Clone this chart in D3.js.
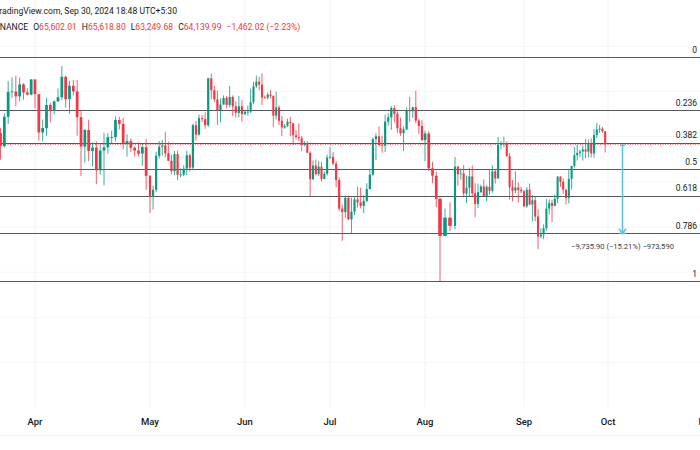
<!DOCTYPE html>
<html>
<head>
<meta charset="utf-8">
<script src="https://cdn.jsdelivr.net/npm/d3@7"></script>
<style>
  html, body { margin: 0; padding: 0; background: #fff; }
  svg { display: block; font-family: Roboto, "Liberation Sans", sans-serif; }
</style>
</head>
<body>
<div id="chart"></div>
<script>
// Daily BTCUSDT candles, [open, high, low, close]
const startDate = new Date(2024, 2, 20); // Mar 20, 2024

const marchBars = [
  [61930, 68100, 60775, 67860], [67860, 68160, 64550, 65490], [65490, 66650, 62260, 63780],
  [65400, 65970, 62450, 63950], [63950, 67600, 63800, 67200], [67200, 71150, 66400, 69950],
  [69950, 71560, 69280, 69990], [69990, 71730, 68380, 69450], [69450, 71550, 68900, 70780],
  [70780, 70920, 69080, 69890], [69890, 70350, 69560, 69650], [69650, 71370, 69560, 71330]
];
const aprilBars = [
  [71330, 71340, 68110, 69700], [69700, 69700, 64550, 65460], [65460, 66900, 64490, 65960],
  [65960, 69290, 65090, 68500], [68500, 68730, 66580, 67840], [67840, 69000, 67450, 68900],
  [68900, 70330, 68850, 69360], [69360, 72800, 69040, 71620], [71620, 71760, 68210, 69150],
  [69150, 71170, 67520, 70630], [70630, 71280, 69570, 70010], [70010, 71260, 65100, 67150],
  [67150, 67950, 60660, 63900], [63900, 65840, 62130, 65740], [65740, 66880, 62300, 63420],
  [63420, 64370, 61700, 63790], [63790, 64480, 59770, 61280], [61280, 64130, 60800, 63470],
  [63470, 65450, 59600, 63820], [63820, 65390, 63100, 64940], [64940, 65670, 64230, 64940],
  [64940, 67230, 64500, 66840], [66840, 67210, 65800, 66410], [66410, 67080, 63600, 64280],
  [64280, 65280, 62800, 64500], [64500, 64800, 63300, 63770], [63770, 63920, 62800, 63460],
  [63460, 64370, 62800, 63120], [63120, 64230, 61790, 63840], [63840, 64730, 59100, 60670]
];
const mayBars = [
  [60670, 60780, 56550, 58320], [58320, 59600, 56940, 59120], [59120, 63320, 58850, 62890],
  [62890, 64500, 62570, 63890], [63890, 64650, 62910, 64030], [64030, 65500, 62700, 63160],
  [63160, 64440, 62300, 62330], [62330, 62990, 60890, 61190], [61190, 63420, 60750, 63070],
  [63070, 63470, 60190, 60790], [60790, 61490, 60490, 60820], [60820, 61850, 60630, 61470],
  [61470, 63450, 60750, 62940], [62940, 63100, 61150, 61580], [61580, 66440, 61330, 66270],
  [66270, 66750, 64600, 65230], [65230, 67450, 65110, 67050], [67050, 67400, 66600, 66940],
  [66940, 67700, 65860, 66270], [66270, 71500, 66060, 71450], [71450, 71980, 69160, 70140],
  [70140, 70630, 68830, 69120], [69120, 70090, 66300, 67930], [67930, 69250, 66600, 68550],
  [68550, 69560, 68540, 69290], [69290, 69500, 68120, 68510], [68510, 70600, 68230, 69390],
  [69390, 69560, 67280, 68360], [68360, 68920, 67120, 67630], [67630, 69500, 67130, 68350],
  [68350, 69030, 66670, 67490]
];
const juneBars = [
  [67490, 67860, 67390, 67750], [67750, 68440, 67320, 67760], [67760, 70290, 67610, 68810],
  [68810, 71060, 68560, 70570], [70570, 71760, 70380, 71080], [71080, 71630, 70120, 70760],
  [70760, 71990, 68500, 69340], [69340, 69560, 69210, 69310], [69310, 69880, 69130, 69650],
  [69650, 70150, 69230, 69510], [69510, 69560, 66050, 67320], [67320, 69990, 66900, 68240],
  [68240, 68450, 66300, 66750], [66750, 67310, 65080, 66010], [66010, 66400, 65870, 66190],
  [66190, 66980, 66060, 66640], [66640, 67190, 65050, 66490], [66490, 66490, 64060, 65150],
  [65150, 65730, 64700, 64960], [64960, 66480, 64500, 64830], [64830, 65070, 63380, 64100],
  [64100, 64520, 63930, 64260], [64260, 64500, 63180, 63210], [63210, 63370, 58400, 60280],
  [60280, 62380, 60230, 61800], [61800, 62480, 60710, 60860], [60860, 62290, 60630, 61680],
  [61680, 62190, 60060, 60320], [60320, 61130, 60280, 60890], [60890, 63000, 60700, 62680]
];
const julyBars = [
  [62680, 63840, 62540, 62770], [62770, 63290, 61820, 62020], [62020, 62290, 59400, 60200],
  [60200, 60500, 56770, 57040], [57040, 57500, 53485, 56660], [56660, 58480, 56020, 58230],
  [58230, 58470, 55740, 55850], [55850, 58240, 54260, 56700], [56700, 58300, 56300, 58050],
  [58050, 59470, 57160, 57720], [57720, 59360, 57050, 57340], [57340, 58520, 56550, 57890],
  [57890, 59850, 57760, 59200], [59200, 61420, 59160, 60800], [60800, 64900, 60650, 64720],
  [64720, 65390, 62400, 65040], [65040, 66130, 63880, 64090], [64090, 65130, 63230, 63990],
  [63990, 67440, 63300, 66660], [66660, 67600, 66220, 67140], [67140, 68370, 65740, 68160],
  [68160, 68480, 66570, 67530], [67530, 67800, 65430, 65930], [65930, 67100, 65100, 65370],
  [65370, 66140, 63400, 65800], [65800, 68230, 65750, 67900], [67900, 69400, 66640, 67810],
  [67810, 68320, 67070, 68250], [68250, 70080, 66490, 66780], [66780, 66990, 65300, 66190],
  [66190, 66830, 64530, 64620]
];
const augustBars = [
  [64620, 65660, 62300, 65350], [65350, 65600, 61200, 61500], [61500, 62200, 59850, 60680],
  [60680, 61100, 57200, 58120], [58120, 58300, 49000, 54020], [54020, 57040, 53970, 56040],
  [56040, 57730, 54560, 55130], [55130, 62750, 54730, 61690], [61690, 61750, 59570, 60840],
  [60840, 61470, 60250, 60930], [60930, 61860, 58290, 58710], [58710, 60700, 57640, 59350],
  [59350, 61580, 58400, 60600], [60600, 61800, 58430, 58740], [58740, 59850, 56080, 57560],
  [57560, 59820, 57100, 58870], [58870, 59690, 58790, 59490], [59490, 60280, 58400, 58430],
  [58430, 59620, 57860, 59460], [59460, 61400, 58570, 59010], [59010, 61820, 58790, 61160],
  [61160, 61400, 59800, 60380], [60380, 64950, 60340, 64090], [64090, 64500, 63600, 64180],
  [64180, 65000, 63820, 64250], [64250, 64480, 62800, 62830], [62830, 63200, 58030, 59420],
  [59420, 60230, 57860, 59030], [59030, 61170, 58720, 59370], [59370, 59940, 57700, 59120],
  [59120, 59460, 58740, 58970]
];
const septemberBars = [
  [58970, 59070, 57200, 57300], [57300, 59420, 57130, 59130], [59130, 59810, 57420, 57490],
  [57490, 58520, 55610, 57970], [57970, 58330, 55670, 56160], [56160, 56980, 52550, 53960],
  [53960, 54850, 53750, 54160], [54160, 55300, 53650, 54870], [54870, 58090, 54600, 57040],
  [57040, 58040, 56380, 57650], [57650, 57990, 55550, 57340], [57340, 58590, 57320, 58130],
  [58130, 60650, 57630, 60570], [60570, 60660, 59430, 60000], [60000, 60380, 58700, 59130],
  [59130, 59210, 57490, 58210], [58210, 61350, 57610, 60310], [60310, 61790, 59170, 61760],
  [61760, 63850, 61570, 62950], [62950, 64130, 62350, 63200], [63200, 63560, 62760, 63350],
  [63350, 64000, 62360, 63580], [63580, 64750, 62620, 63340], [63340, 64700, 62700, 64260],
  [64260, 64820, 62700, 63150], [63150, 65840, 62670, 65180], [65180, 66500, 64820, 65790],
  [65790, 66260, 65420, 65890], [65890, 66080, 65420, 65600], [65602.01, 65618.80, 63249.68, 64139.99]
];

// Fibonacci retracement between the March high and the August low
const fibHigh = 73777;
const fibLow = 49000;
const fibLevels = [0, 0.236, 0.382, 0.5, 0.618, 0.786, 1];

// Price range measurement
const rangeTop = 64038;
const rangeChange = -9735.90;
const rangeLabel = '\u22129,735.90 (\u221215.21%) \u2212973,590';

const lastClose = 64139.99;
const monthTicks = ['Apr', 'May', 'Jun', 'Jul', 'Aug', 'Sep', 'Oct', 'Nov'];

const width = 700, height = 450;
const green = '#089981', red = '#f23645';

const bars = [].concat(marchBars, aprilBars, mayBars, juneBars, julyBars, augustBars, septemberBars)
  .map((b, i) => ({
    date: new Date(startDate.getFullYear(), startDate.getMonth(), startDate.getDate() + i),
    open: b[0], high: b[1], low: b[2], close: b[3]
  }));

const svg = d3.select('#chart').append('svg')
  .attr('width', width)
  .attr('height', height);

svg.append('rect').attr('width', width).attr('height', height).attr('fill', '#fff');

// Time axis follows the screenshot's month spacing
const tickDates = monthTicks.map((m, i) => new Date(2024, 3 + i, 1));
const x = d3.scaleTime()
  .domain([tickDates[0], tickDates[1], tickDates[2], tickDates[3], tickDates[4],
           new Date(2024, 7, 5), new Date(2024, 7, 8), tickDates[5], tickDates[6], tickDates[7]])
  .range([35, 150, 245, 330, 425, 440, 455, 524, 608, 707]);

const y = d3.scaleLinear()
  .domain([fibLow, fibHigh])
  .range([281.3, 57.3]);

// Grid
svg.append('g')
  .selectAll('line')
  .data(tickDates)
  .join('line')
  .attr('x1', d => x(d)).attr('x2', d => x(d))
  .attr('y1', 0).attr('y2', 407)
  .attr('stroke', '#f0f2f6');

svg.append('g')
  .selectAll('line')
  .data(d3.range(40000, 80000, 5000))
  .join('line')
  .attr('x1', 0).attr('x2', width)
  .attr('y1', d => y(d)).attr('y2', d => y(d))
  .attr('stroke', '#f4f5f8');

svg.append('line')
  .attr('x1', 0).attr('x2', width)
  .attr('y1', 435.5).attr('y2', 435.5)
  .attr('stroke', '#f0f2f6');

// Fibonacci levels
const fib = svg.append('g');
fib.selectAll('line')
  .data(fibLevels)
  .join('line')
  .attr('x1', 0).attr('x2', width)
  .attr('y1', d => Math.round(y(fibHigh - d * (fibHigh - fibLow))) + 0.5)
  .attr('y2', d => Math.round(y(fibHigh - d * (fibHigh - fibLow))) + 0.5)
  .attr('stroke', '#55585f')
  .attr('stroke-width', 1);

fib.selectAll('text')
  .data(fibLevels)
  .join('text')
  .attr('x', 697)
  .attr('y', d => y(fibHigh - d * (fibHigh - fibLow)) - 4.5)
  .attr('text-anchor', 'end')
  .attr('font-size', 8.5)
  .attr('fill', '#131722')
  .text(d => String(d));

// Last price line
svg.append('line')
  .attr('x1', 0).attr('x2', width)
  .attr('y1', y(lastClose)).attr('y2', y(lastClose))
  .attr('stroke', red)
  .attr('stroke-width', 0.8)
  .attr('stroke-dasharray', '1,1.5');

// Candles
const candles = svg.append('g').selectAll('g')
  .data(bars)
  .join('g');

candles.append('line')
  .attr('x1', d => x(d.date)).attr('x2', d => x(d.date))
  .attr('y1', d => y(d.high)).attr('y2', d => y(d.low))
  .attr('stroke', d => d.close >= d.open ? green : red)
  .attr('stroke-width', 0.8);

candles.append('rect')
  .attr('x', d => {
    const w = bodyWidth(d);
    return x(d.date) - w / 2;
  })
  .attr('width', d => bodyWidth(d))
  .attr('y', d => y(Math.max(d.open, d.close)))
  .attr('height', d => Math.max(0.8, Math.abs(y(d.open) - y(d.close))))
  .attr('fill', d => d.close >= d.open ? green : red);

function bodyWidth(d) {
  const next = new Date(d.date.getFullYear(), d.date.getMonth(), d.date.getDate() + 1);
  return Math.max(1.8, (x(next) - x(d.date)) * 0.72);
}

// Price range measurement arrow
const arrowColor = '#5fc4d8';
const ax = 622.5;
const yTop = y(rangeTop), yBottom = y(rangeTop + rangeChange);
const arrow = svg.append('g').attr('stroke', arrowColor).attr('fill', 'none').attr('stroke-width', 1.6);
arrow.append('line').attr('x1', ax).attr('x2', ax).attr('y1', yTop).attr('y2', yBottom);
arrow.append('line').attr('x1', ax - 2.5).attr('x2', ax + 2.5).attr('y1', yTop).attr('y2', yTop);
arrow.append('path').attr('d', `M${ax - 3.5},${yBottom - 4.5}L${ax},${yBottom}L${ax + 3.5},${yBottom - 4.5}`);
arrow.append('line').attr('x1', ax - 3).attr('x2', ax + 3).attr('y1', yBottom).attr('y2', yBottom);

svg.append('text')
  .attr('x', ax)
  .attr('y', yBottom + 16)
  .attr('text-anchor', 'middle')
  .attr('font-size', 7.6)
  .attr('fill', '#3a3e4a')
  .text(rangeLabel);

// Time axis labels
svg.append('g')
  .selectAll('text')
  .data(tickDates)
  .join('text')
  .attr('x', d => x(d))
  .attr('y', 425)
  .attr('text-anchor', 'middle')
  .attr('font-size', 9.5)
  .attr('font-weight', 500)
  .attr('fill', '#131722')
  .text((d, i) => monthTicks[i]);

// Header (left part cut off in the screenshot)
svg.append('text')
  .attr('x', -5.5).attr('y', 14)
  .attr('font-size', 8.6)
  .attr('fill', '#131722')
  .text('TradingView.com, Sep 30, 2024 18:48 UTC+5:30');

const header = svg.append('text')
  .attr('x', -8).attr('y', 30)
  .attr('font-size', 8.6)
  .attr('fill', '#131722');
const ohlc = [['O', bars[bars.length - 1].open], ['H', bars[bars.length - 1].high],
              ['L', bars[bars.length - 1].low], ['C', bars[bars.length - 1].close]];
const fmt = d3.format(',.2f');
header.append('tspan').text('BINANCE');
ohlc.forEach(([k, v]) => {
  header.append('tspan').attr('dx', 5).text(k);
  header.append('tspan').attr('fill', red).text(fmt(v));
});
header.append('tspan').attr('dx', 5).attr('fill', red)
  .text('\u22121,462.02 (\u22122.23%)');
</script>
</body>
</html>
